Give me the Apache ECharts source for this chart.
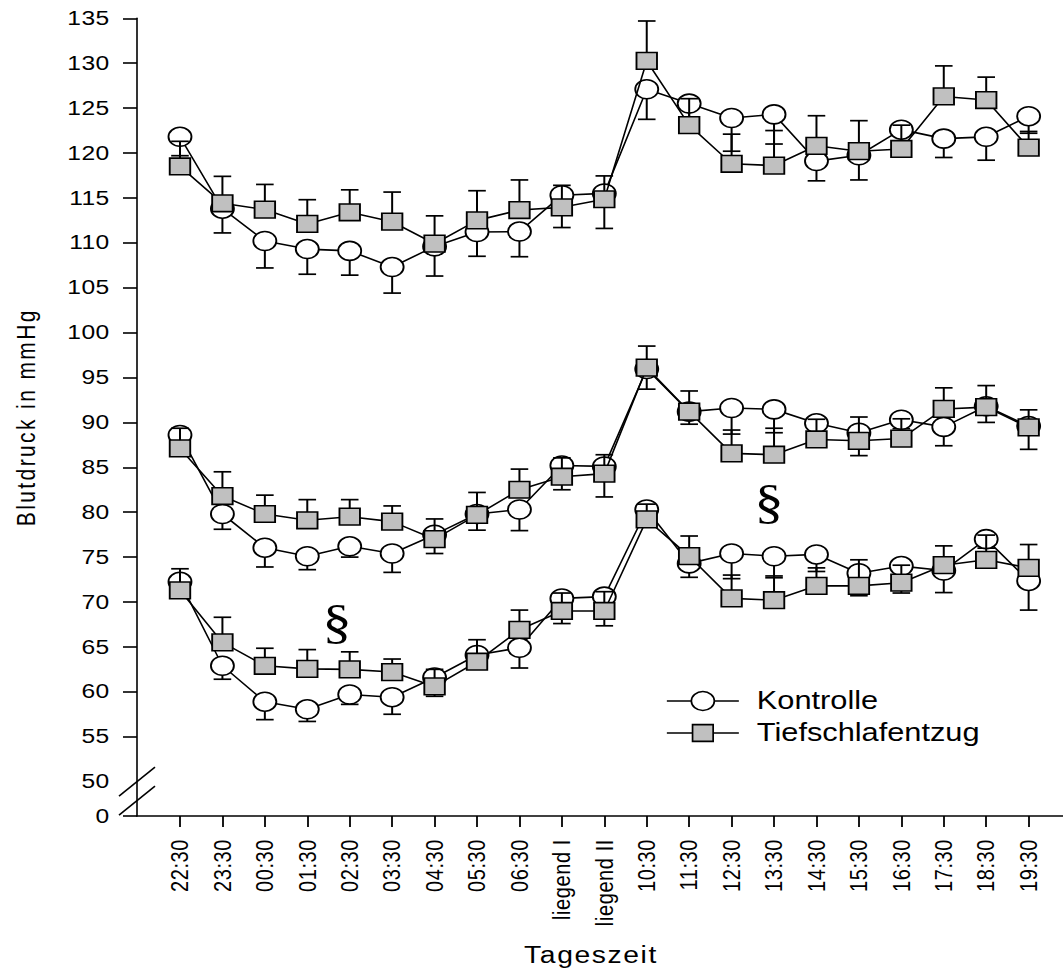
<!DOCTYPE html>
<html>
<head>
<meta charset="utf-8">
<script src="https://cdn.jsdelivr.net/npm/echarts@6/dist/echarts.min.js"></script>
<style>
  html, body { margin: 0; padding: 0; background: #ffffff; }
  #chart { width: 1063px; height: 974px; }
</style>
</head>
<body>
<div id="chart"></div>
<script>
// ---------------- data ----------------
const categories = ['22:30', '23:30', '00:30', '01:30', '02:30', '03:30', '04:30', '05:30', '06:30',
  'liegend I', 'liegend II', '10:30', '11:30', '12:30', '13:30', '14:30', '15:30', '16:30', '17:30', '18:30', '19:30'];

const yTickLabels = [0, 50, 55, 60, 65, 70, 75, 80, 85, 90, 95, 100, 105, 110, 115, 120, 125, 130, 135];

// systolic (upper group)
const sysKontrolle = [121.8, 113.8, 110.2, 109.3, 109.1, 107.3, 109.6, 111.2, 111.25, 115.3, 115.5, 127.1, 125.5, 123.9, 124.3, 119.1, 119.75, 122.6, 121.6, 121.8, 124.1];
const sysKontrolleErr = [2.1, 2.7, 3.0, 2.8, 2.7, 2.9, 3.3, 2.7, 2.8, 3.6, 3.9, 3.35, 1.5, 3.7, 3.3, 2.2, 2.75, 1.5, 2.1, 2.6, 1.9];
const sysTief = [118.5, 114.4, 113.7, 112.1, 113.4, 112.35, 109.9, 112.5, 113.65, 113.95, 114.85, 130.25, 123.1, 118.8, 118.6, 120.8, 120.2, 120.45, 126.3, 125.9, 120.6];
const sysTiefErr = [2.8, 3.0, 2.8, 2.7, 2.5, 3.3, 3.1, 3.3, 3.35, 2.45, 2.6, 4.45, 2.95, 3.3, 3.9, 3.35, 3.4, 2.65, 3.4, 2.55, 1.8];

// mean (middle group)
const meanKontrolle = [88.6, 79.8, 76.05, 75.1, 76.2, 75.4, 77.5, 79.8, 80.3, 85.2, 85.1, 95.95, 91.2, 91.6, 91.45, 89.9, 88.85, 90.3, 89.5, 91.8, 89.6];
const meanKontrolleErr = [1.0, 1.7, 2.15, 1.5, 1.2, 2.1, 2.1, 1.8, 2.35, 2.7, 3.4, 2.25, 1.4, 2.9, 2.6, 1.0, 2.55, 1.0, 2.1, 1.8, 2.6];
const meanTief = [87.1, 81.8, 79.8, 79.1, 79.5, 78.95, 77.0, 79.7, 82.5, 83.95, 84.3, 96.1, 91.2, 86.55, 86.4, 88.1, 87.95, 88.2, 91.5, 91.7, 89.45];
const meanTiefErr = [2.25, 2.7, 2.1, 2.3, 1.9, 1.75, 2.25, 2.5, 2.3, 2.1, 2.1, 2.4, 2.3, 2.6, 2.95, 2.25, 2.65, 2.2, 2.35, 2.4, 1.95];

// diastolic (lower group)
const diaKontrolle = [72.25, 62.9, 58.9, 58.05, 59.7, 59.4, 61.6, 64.1, 64.9, 70.4, 70.6, 80.3, 74.3, 75.4, 75.1, 75.3, 73.2, 74.0, 73.5, 77.0, 72.35];
const diaKontrolleErr = [1.65, 1.5, 2.0, 1.35, 1.1, 1.9, 2.1, 1.5, 2.25, 2.8, 3.25, 1.9, 1.55, 2.8, 2.4, 1.9, 2.5, 3.0, 2.45, 1.0, 3.25];
const diaTief = [71.3, 65.5, 62.9, 62.55, 62.5, 62.2, 60.6, 63.35, 66.9, 69.0, 69.0, 79.2, 75.1, 70.4, 70.2, 71.8, 71.8, 72.15, 74.1, 74.7, 73.8];
const diaTiefErr = [2.4, 2.8, 1.95, 2.15, 1.95, 1.45, 1.9, 2.45, 2.2, 2.0, 2.15, 1.7, 2.25, 2.6, 2.7, 2.0, 2.9, 1.95, 2.15, 2.75, 2.6];

// significance marks (category index position, value)
const sectionMarks = [[3.7, 67.8], [13.88, 81.1]];

// ---------------- layout / style ----------------
const FONT = "'Liberation Sans', Arial, Helvetica, sans-serif";
const AXIS_FLOOR = 46.17;          // where the "0" of the broken value axis sits
const X_OFFSET = 2;                // category index -> axis position (keeps 0 outside the x range)
const X_MIN = X_OFFSET - 1.013, X_MAX = X_OFFSET + 20.81;
const STRETCH = 1.23;              // horizontal stretch of the reference lettering

const ELLIPSE = 'path://M0,10A12,10 0 1,1 24,10A12,10 0 1,1 0,10Z';
const LEG_K = 'path://M0,9.5L24.5,9.5M47.5,9.5L72,9.5M24.5,9.5A11.5,9.5 0 1,1 47.5,9.5A11.5,9.5 0 1,1 24.5,9.5Z';
const LEG_T = 'path://M0,0M72,19M0,9.5L25.7,9.5M46.3,9.5L72,9.5M25.7,1.15L46.3,1.15L46.3,17.85L25.7,17.85Z';

function errSeries(vals, errs, dir, z) {
  return {
    type: 'custom', z: z, silent: true,
    data: vals.map((v, i) => [i + X_OFFSET, v, errs[i], dir]),
    encode: { x: 0, y: 1 },
    renderItem: function (params, api) {
      const x = api.value(0), v = api.value(1), e = api.value(2), d = api.value(3);
      const p0 = api.coord([x, v]);
      const p1 = api.coord([x, v + d * e]);
      const hw = 8.8;
      return {
        type: 'group',
        children: [
          { type: 'line', shape: { x1: p0[0], y1: p0[1], x2: p1[0], y2: p1[1] }, style: { stroke: '#000', lineWidth: 2 } },
          { type: 'line', shape: { x1: p1[0] - hw, y1: p1[1], x2: p1[0] + hw, y2: p1[1] }, style: { stroke: '#000', lineWidth: 1.7 } }
        ]
      };
    }
  };
}

function lineSeries(name, vals, isK, z) {
  return {
    type: 'line', name: name, z: z, silent: true,
    data: vals.map((v, i) => [i + X_OFFSET, v]),
    symbol: isK ? ELLIPSE : 'rect',
    symbolSize: isK ? [23, 19] : [20.5, 16.7],
    symbolKeepAspect: false,
    showAllSymbol: true,
    lineStyle: { color: '#000', width: 1.6 },
    itemStyle: { color: isK ? '#ffffff' : '#c0c0c0', borderColor: '#000', borderWidth: 1.7 },
    emphasis: { disabled: true }
  };
}

const groups = [
  [sysKontrolle, sysKontrolleErr, sysTief, sysTiefErr],
  [meanKontrolle, meanKontrolleErr, meanTief, meanTiefErr],
  [diaKontrolle, diaKontrolleErr, diaTief, diaTiefErr]
];

const series = [];
groups.forEach(g => {
  series.push(errSeries(g[0], g[1], -1, 2));
  series.push(lineSeries('Kontrolle', g[0], true, 3));
  series.push(errSeries(g[2], g[3], 1, 4));
  series.push(lineSeries('Tiefschlafentzug', g[2], false, 5));
});
series.push({
  type: 'scatter', name: 'marks', z: 6, silent: true,
  data: sectionMarks.map(p => [p[0] + X_OFFSET, p[1]]),
  symbolSize: 1,
  itemStyle: { color: 'rgba(0,0,0,0)', opacity: 1 },
  emphasis: { disabled: true },
  label: {
    show: true, position: 'inside', formatter: '§',
    fontFamily: "'Liberation Serif', 'Times New Roman', serif", fontSize: 48,
    color: '#000', opacity: 1, textBorderWidth: 0
  }
});

const yLabelValues = yTickLabels.map(v => v === 0 ? AXIS_FLOOR : v);
const yTickValues = yLabelValues.filter(v => v !== 50);
const xValues = categories.map((c, i) => i + X_OFFSET);

const chart = echarts.init(document.getElementById('chart'), null, { renderer: 'svg' });

const option = {
  animation: false,
  backgroundColor: '#ffffff',
  grid: { left: 137, right: 0, top: 18.3, bottom: 158, containLabel: false, outerBoundsMode: 'none' },
  legend: {
    orient: 'vertical', left: 666, top: 688.5, padding: 0,
    itemWidth: 72, itemHeight: 19, itemGap: 7,
    symbolKeepAspect: true,
    selectedMode: false,
    data: [
      { name: 'Kontrolle', icon: LEG_K, itemStyle: { color: '#ffffff', borderColor: '#000', borderWidth: 1.7 } },
      { name: 'Tiefschlafentzug', icon: LEG_T, itemStyle: { color: '#c0c0c0', borderColor: '#000', borderWidth: 1.7 } }
    ],
    textStyle: { fontFamily: FONT, fontSize: 25, color: '#000', padding: [0, 0, 0, 13] }
  },
  xAxis: {
    type: 'value', min: X_MIN, max: X_MAX,
    name: 'Tageszeit', nameLocation: 'middle', nameGap: 127,
    nameTextStyle: { fontFamily: FONT, fontSize: 23, color: '#000', padding: [0, 18, 0, 0] },
    axisLine: { show: true, onZero: false, lineStyle: { color: '#000', width: 1.6 } },
    axisTick: { show: true, length: 11, lineStyle: { color: '#000', width: 1.8 }, customValues: xValues },
    axisLabel: {
      show: true, rotate: 90, margin: 23, fontFamily: FONT, fontSize: 20, color: '#000',
      customValues: xValues,
      formatter: v => categories[Math.round(v) - X_OFFSET]
    },
    splitLine: { show: false }
  },
  yAxis: {
    type: 'value', min: AXIS_FLOOR, max: 135,
    name: 'Blutdruck in mmHg', nameLocation: 'middle', nameGap: 100,
    nameTextStyle: { fontFamily: FONT, fontSize: 21, color: '#000' },
    axisLine: { show: true, onZero: false, lineStyle: { color: '#000', width: 1.6 } },
    axisTick: { show: true, length: 14, lineStyle: { color: '#000', width: 1.6 }, customValues: yTickValues },
    axisLabel: {
      show: true, margin: 27.5, fontFamily: FONT, fontSize: 20, color: '#000',
      customValues: yLabelValues,
      formatter: v => (v < 49 ? '0' : String(Math.round(v)))
    },
    splitLine: { show: false }
  },
  series: series
};

chart.setOption(option);

// axis-break marks on the value axis, placed through the axis scales
const axX = chart.convertToPixel({ xAxisIndex: 0 }, X_MIN);
const y50 = chart.convertToPixel({ yAxisIndex: 0 }, 50);
chart.setOption({
  graphic: [
    { type: 'line', shape: { x1: axX - 18, y1: y50 + 14.5, x2: axX + 18, y2: y50 - 14.5 }, style: { stroke: '#000', lineWidth: 1.6 }, silent: true, z: 10 },
    { type: 'line', shape: { x1: axX - 18, y1: y50 + 33.5, x2: axX + 18, y2: y50 + 4.5 }, style: { stroke: '#000', lineWidth: 1.6 }, silent: true, z: 10 }
  ]
});

// ---------- lettering: horizontal stretch + letter spacing like the reference ----------
function spacingFor(t) {
  if (/^\d+$/.test(t)) return 0.3;
  if (categories.indexOf(t) >= 0) return 0.6;
  if (t === 'Tageszeit') return 1.3;
  if (t === 'Blutdruck in mmHg') return 2.4;
  return 0;
}
function stretchTexts() {
  const texts = document.querySelectorAll('#chart svg text');
  texts.forEach(el => {
    const applied = el.getAttribute('data-applied');
    if (applied && el.getAttribute('transform') === applied) return;
    let a = 1, b = 0, c = 0, d = 1, e = 0, f = 0;
    if (el.getAttribute('transform')) {
      const m = el.transform.baseVal.consolidate();
      if (m) { a = m.matrix.a; b = m.matrix.b; c = m.matrix.c; d = m.matrix.d; e = m.matrix.e; f = m.matrix.f; }
    }
    let xs = el.getAttribute('x'), ys = el.getAttribute('y');
    if (xs === null) {
      const ts = el.querySelector('tspan');
      if (ts) { xs = ts.getAttribute('x'); ys = ts.getAttribute('y'); }
    }
    const x = parseFloat(xs || 0), y = parseFloat(ys || 0);
    const px = a * x + c * y + e;
    const k = STRETCH;
    const t = 'matrix(' + [k * a, b, k * c, d, k * e + (1 - k) * px, f].join(',') + ')';
    el.setAttribute('transform', t);
    el.setAttribute('data-applied', t);
    const s = spacingFor(el.textContent.trim());
    if (s) el.style.letterSpacing = s + 'px';
  });
}
stretchTexts();
chart.on('finished', stretchTexts);
setTimeout(stretchTexts, 50);
setTimeout(stretchTexts, 300);
</script>
</body>
</html>
